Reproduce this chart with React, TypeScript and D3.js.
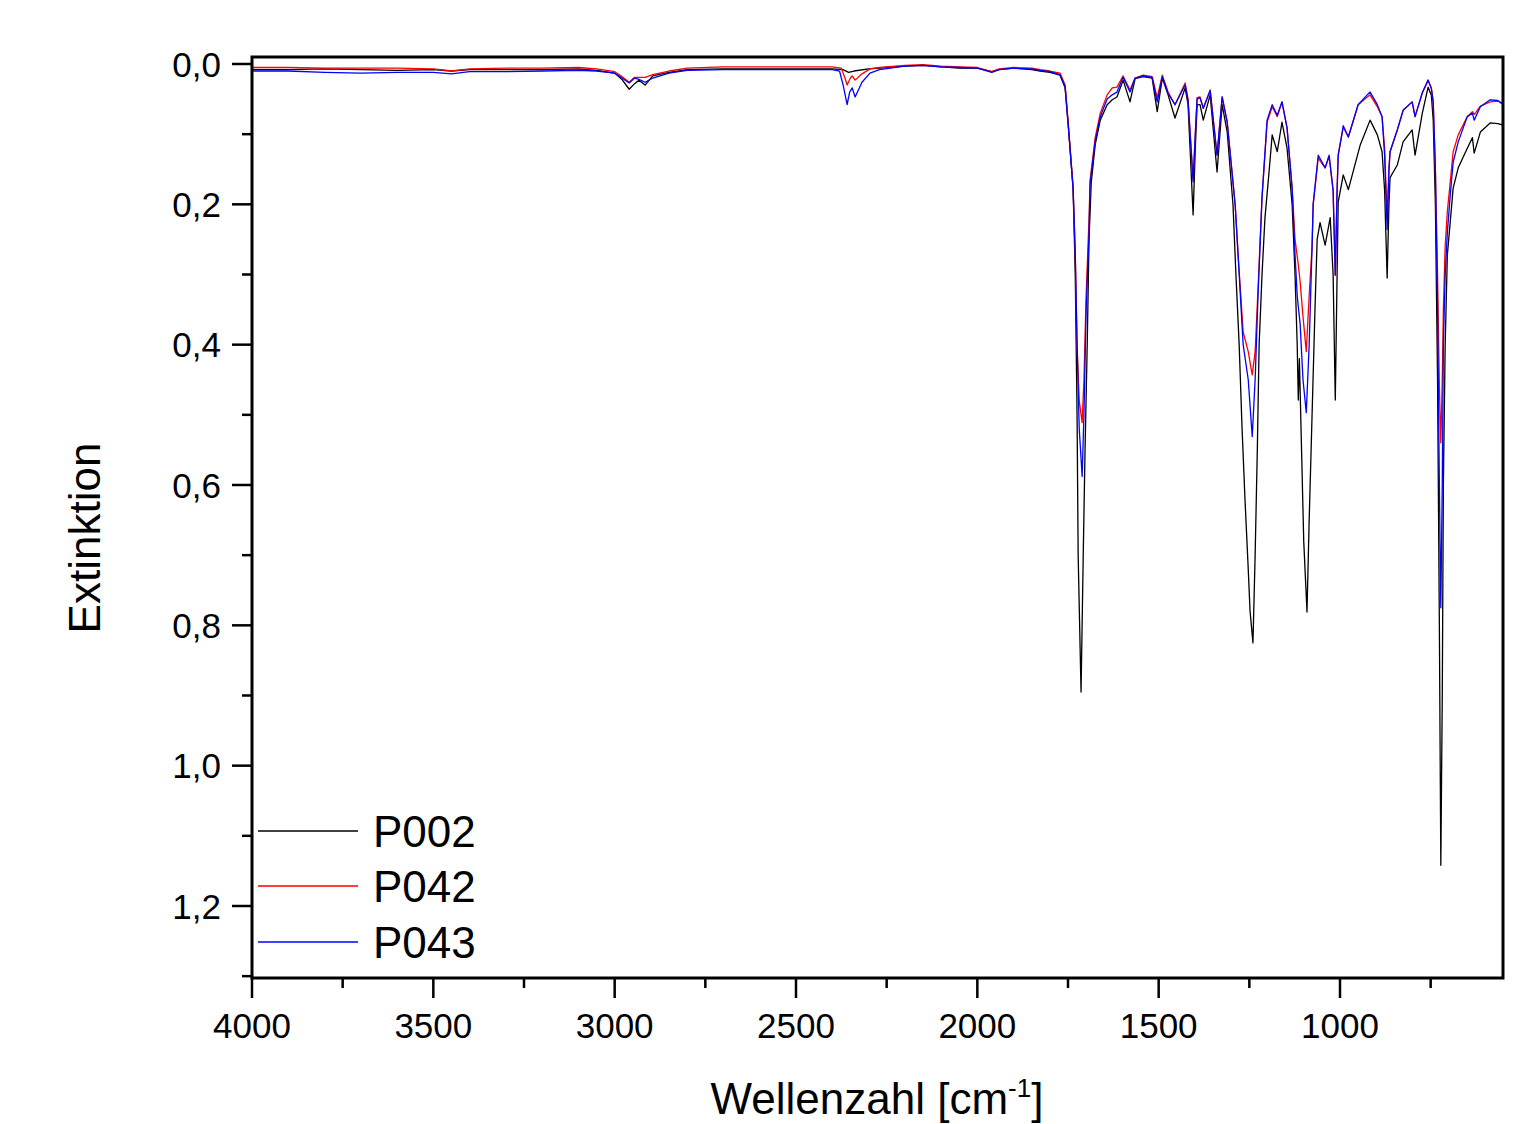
import React from "react";
import * as d3 from "d3";

type Pt = [number, number];

const seriesNames = ["P002", "P042", "P043"];
const seriesColors = ["#000000", "#ff0000", "#0000ff"];

const xMajorTicks = [4000, 3500, 3000, 2500, 2000, 1500, 1000];
const xMinorTicks = [3750, 3250, 2750, 2250, 1750, 1250, 750];
const yMajorTicks = [0, 0.2, 0.4, 0.6, 0.8, 1.0, 1.2];
const yMinorTicks = [0.1, 0.3, 0.5, 0.7, 0.9, 1.1, 1.3];

const p002: Pt[] = [
  [4000, 0.008], [3900, 0.008], [3800, 0.007], [3700, 0.008], [3600, 0.009], [3500, 0.008], [3450, 0.010],
  [3400, 0.008], [3300, 0.008], [3200, 0.008], [3100, 0.007], [3050, 0.009], [3000, 0.013], [2980, 0.022],
  [2960, 0.036], [2945, 0.028], [2933, 0.023], [2916, 0.030], [2895, 0.017], [2850, 0.012], [2800, 0.008],
  [2700, 0.007], [2600, 0.007], [2500, 0.007], [2400, 0.007], [2370, 0.008], [2355, 0.012], [2340, 0.010],
  [2300, 0.007], [2250, 0.005], [2200, 0.003], [2150, 0.002], [2100, 0.004], [2050, 0.006], [2000, 0.006],
  [1960, 0.011], [1940, 0.008], [1900, 0.006], [1850, 0.008], [1827, 0.010], [1800, 0.012], [1772, 0.016],
  [1758, 0.034], [1750, 0.083], [1736, 0.177], [1730, 0.30], [1725, 0.50], [1722, 0.70], [1714, 0.895],
  [1708, 0.70], [1703, 0.55], [1697, 0.40], [1692, 0.25], [1686, 0.17], [1675, 0.115], [1661, 0.080],
  [1642, 0.058], [1628, 0.051], [1615, 0.047], [1598, 0.023], [1579, 0.054], [1565, 0.021], [1543, 0.018],
  [1518, 0.020], [1504, 0.068], [1490, 0.020], [1474, 0.044], [1455, 0.077], [1427, 0.034], [1419, 0.058],
  [1405, 0.215], [1399, 0.12], [1394, 0.058], [1386, 0.058], [1377, 0.080], [1358, 0.044], [1339, 0.154],
  [1325, 0.058], [1311, 0.097], [1295, 0.201], [1287, 0.30], [1278, 0.40], [1270, 0.52], [1262, 0.62],
  [1253, 0.72], [1248, 0.78], [1240, 0.825], [1234, 0.70], [1228, 0.55], [1223, 0.40], [1215, 0.30],
  [1207, 0.22], [1195, 0.15], [1187, 0.101], [1173, 0.125], [1160, 0.083], [1146, 0.120], [1132, 0.20],
  [1124, 0.30], [1118, 0.40], [1115, 0.479], [1112, 0.42], [1106, 0.55], [1100, 0.68], [1091, 0.781],
  [1085, 0.65], [1077, 0.50], [1069, 0.35], [1063, 0.25], [1055, 0.226], [1041, 0.258], [1027, 0.219],
  [1019, 0.30], [1013, 0.479], [1008, 0.30], [1005, 0.197], [991, 0.158], [977, 0.179], [944, 0.115],
  [917, 0.080], [897, 0.101], [884, 0.125], [877, 0.18], [870, 0.305], [865, 0.20], [862, 0.162],
  [842, 0.144], [826, 0.111], [801, 0.094], [793, 0.130], [773, 0.070], [757, 0.033], [748, 0.045],
  [743, 0.080], [737, 0.20], [731, 0.45], [726, 0.80], [722, 1.142], [718, 0.90], [715, 0.60], [710, 0.40],
  [704, 0.272], [696, 0.225], [688, 0.177], [674, 0.148], [649, 0.120], [635, 0.105], [630, 0.127],
  [613, 0.097], [586, 0.084], [565, 0.085], [550, 0.087],
];

const p042: Pt[] = [
  [4000, 0.005], [3900, 0.005], [3800, 0.006], [3700, 0.006], [3600, 0.006], [3500, 0.007], [3450, 0.010],
  [3400, 0.007], [3300, 0.006], [3200, 0.006], [3100, 0.005], [3050, 0.007], [3000, 0.011], [2980, 0.018],
  [2960, 0.026], [2945, 0.019], [2933, 0.019], [2916, 0.019], [2895, 0.015], [2850, 0.010], [2800, 0.006],
  [2700, 0.004], [2600, 0.004], [2500, 0.004], [2400, 0.004], [2375, 0.006], [2365, 0.020], [2359, 0.030],
  [2350, 0.020], [2345, 0.017], [2337, 0.023], [2318, 0.014], [2296, 0.007], [2270, 0.005], [2200, 0.002],
  [2150, 0.001], [2100, 0.003], [2050, 0.004], [2000, 0.005], [1960, 0.011], [1940, 0.007], [1900, 0.005],
  [1850, 0.006], [1827, 0.008], [1800, 0.010], [1772, 0.013], [1758, 0.030], [1750, 0.080], [1736, 0.175],
  [1730, 0.27], [1725, 0.40], [1719, 0.48], [1711, 0.511], [1706, 0.45], [1700, 0.33], [1692, 0.22],
  [1689, 0.165], [1675, 0.105], [1661, 0.070], [1642, 0.044], [1628, 0.034], [1615, 0.033], [1598, 0.017],
  [1579, 0.037], [1565, 0.020], [1543, 0.016], [1518, 0.018], [1504, 0.048], [1490, 0.016], [1474, 0.040],
  [1455, 0.058], [1427, 0.027], [1419, 0.050], [1405, 0.165], [1399, 0.10], [1394, 0.048], [1386, 0.047],
  [1377, 0.063], [1358, 0.037], [1339, 0.130], [1325, 0.047], [1311, 0.083], [1289, 0.201], [1281, 0.272],
  [1267, 0.382], [1253, 0.41], [1242, 0.443], [1234, 0.41], [1226, 0.32], [1215, 0.19], [1201, 0.083],
  [1187, 0.061], [1173, 0.075], [1160, 0.054], [1146, 0.091], [1132, 0.177], [1124, 0.25], [1115, 0.286],
  [1110, 0.31], [1102, 0.36], [1093, 0.410], [1085, 0.33], [1077, 0.26], [1074, 0.20], [1060, 0.134],
  [1041, 0.148], [1030, 0.132], [1019, 0.18], [1013, 0.301], [1008, 0.18], [1005, 0.13], [991, 0.090],
  [977, 0.104], [950, 0.058], [925, 0.047], [917, 0.044], [897, 0.061], [884, 0.075], [877, 0.12],
  [870, 0.22], [865, 0.15], [862, 0.125], [842, 0.094], [826, 0.066], [801, 0.054], [793, 0.075],
  [773, 0.041], [757, 0.023], [748, 0.035], [743, 0.054], [737, 0.15], [731, 0.30], [726, 0.46],
  [722, 0.54], [718, 0.45], [715, 0.35], [710, 0.26], [704, 0.21], [696, 0.168], [688, 0.125], [674, 0.101],
  [649, 0.075], [635, 0.068], [630, 0.072], [613, 0.060], [586, 0.054], [565, 0.053], [550, 0.056],
];

const p043: Pt[] = [
  [4000, 0.010], [3900, 0.010], [3800, 0.012], [3700, 0.013], [3600, 0.012], [3500, 0.012], [3450, 0.014],
  [3400, 0.011], [3300, 0.011], [3200, 0.010], [3100, 0.009], [3050, 0.010], [3000, 0.013], [2980, 0.020],
  [2960, 0.027], [2945, 0.020], [2933, 0.022], [2916, 0.026], [2895, 0.020], [2850, 0.013], [2800, 0.009],
  [2700, 0.008], [2600, 0.008], [2500, 0.008], [2400, 0.008], [2380, 0.010], [2370, 0.030], [2359, 0.058],
  [2352, 0.040], [2345, 0.034], [2337, 0.047], [2318, 0.026], [2296, 0.013], [2270, 0.008], [2200, 0.003],
  [2150, 0.002], [2100, 0.004], [2050, 0.005], [2000, 0.006], [1960, 0.012], [1940, 0.008], [1900, 0.006],
  [1850, 0.007], [1827, 0.009], [1800, 0.011], [1772, 0.015], [1758, 0.032], [1750, 0.083], [1736, 0.177],
  [1730, 0.27], [1725, 0.40], [1719, 0.52], [1711, 0.588], [1706, 0.50], [1700, 0.35], [1692, 0.24],
  [1689, 0.17], [1675, 0.110], [1661, 0.075], [1642, 0.050], [1628, 0.044], [1615, 0.040], [1598, 0.019],
  [1579, 0.040], [1565, 0.020], [1543, 0.017], [1518, 0.019], [1504, 0.054], [1490, 0.018], [1474, 0.042],
  [1455, 0.058], [1427, 0.030], [1419, 0.052], [1405, 0.168], [1399, 0.10], [1394, 0.050], [1386, 0.048],
  [1377, 0.063], [1358, 0.038], [1339, 0.130], [1325, 0.047], [1311, 0.083], [1289, 0.201], [1281, 0.272],
  [1267, 0.40], [1253, 0.45], [1242, 0.531], [1234, 0.45], [1226, 0.33], [1215, 0.19], [1201, 0.080],
  [1187, 0.058], [1173, 0.073], [1160, 0.054], [1146, 0.091], [1132, 0.177], [1124, 0.272], [1118, 0.33],
  [1115, 0.346], [1110, 0.37], [1102, 0.45], [1093, 0.497], [1085, 0.40], [1077, 0.26], [1074, 0.20],
  [1060, 0.130], [1041, 0.148], [1030, 0.130], [1019, 0.18], [1013, 0.301], [1008, 0.18], [1005, 0.13],
  [991, 0.088], [977, 0.104], [950, 0.058], [925, 0.044], [917, 0.040], [897, 0.058], [884, 0.075],
  [877, 0.13], [870, 0.236], [865, 0.15], [862, 0.125], [842, 0.094], [826, 0.066], [801, 0.054],
  [793, 0.075], [773, 0.041], [757, 0.023], [748, 0.035], [743, 0.054], [737, 0.15], [731, 0.35],
  [726, 0.60], [722, 0.775], [718, 0.60], [715, 0.40], [710, 0.30], [704, 0.24], [696, 0.187], [688, 0.140],
  [674, 0.111], [649, 0.075], [635, 0.070], [630, 0.080], [613, 0.061], [586, 0.051], [565, 0.052], [550, 0.058],
];

const allSeries = [p002, p042, p043];

const W = 1527;
const H = 1124;
const PL = 252, PR = 1503, PT = 57, PB = 978;
const FONT = "Arial, 'Liberation Sans', sans-serif";

export default function App() {
  const x = d3.scaleLinear().domain([4000, 1000]).range([PL, 1340]);
  const y = d3.scaleLinear().domain([0, 1.2]).range([64, 906]);
  const line = d3.line<Pt>().x((d) => x(d[0])).y((d) => y(d[1]));

  const legendY = [831, 886, 942];

  return (
    <svg width={W} height={H} style={{ position: "absolute", left: 0, top: 0, background: "#fff" }}
      fontFamily={FONT}>
      <rect x={0} y={0} width={W} height={H} fill="#fff" />
      <defs>
        <clipPath id="plotclip">
          <rect x={PL} y={PT} width={PR - PL} height={PB - PT} />
        </clipPath>
      </defs>
      <g clipPath="url(#plotclip)">
        {allSeries.map((s, i) => (
          <path key={i} d={line(s) || ""} fill="none" stroke={seriesColors[i]} strokeWidth={1.3}
            strokeLinejoin="round" />
        ))}
      </g>
      {/* frame */}
      <rect x={PL} y={PT} width={PR - PL} height={PB - PT} fill="none" stroke="#000" strokeWidth={3} />
      {/* y ticks */}
      {yMajorTicks.map((t) => (
        <g key={"ym" + t}>
          <line x1={232} x2={PL} y1={y(t)} y2={y(t)} stroke="#000" strokeWidth={2.5} />
          <text x={221} y={y(t)} dy="0.36em" textAnchor="end" fontSize={35}>
            {t.toFixed(1).replace(".", ",")}
          </text>
        </g>
      ))}
      {yMinorTicks.map((t) => (
        <line key={"yn" + t} x1={242} x2={PL} y1={y(t)} y2={y(t)} stroke="#000" strokeWidth={2.5} />
      ))}
      {/* x ticks */}
      {xMajorTicks.map((t) => (
        <g key={"xm" + t}>
          <line x1={x(t)} x2={x(t)} y1={PB} y2={PB + 20} stroke="#000" strokeWidth={2.5} />
          <text x={x(t)} y={1038} textAnchor="middle" fontSize={35}>{t}</text>
        </g>
      ))}
      {xMinorTicks.map((t) => (
        <line key={"xn" + t} x1={x(t)} x2={x(t)} y1={PB} y2={PB + 10} stroke="#000" strokeWidth={2.5} />
      ))}
      {/* axis titles */}
      <text transform="translate(100,538) rotate(-90)" textAnchor="middle" fontSize={44}>Extinktion</text>
      <text x={877} y={1114} textAnchor="middle" fontSize={44}>
        Wellenzahl [cm<tspan dy={-17} fontSize={26}>-1</tspan><tspan dy={17}>]</tspan>
      </text>
      {/* legend */}
      {seriesNames.map((n, i) => (
        <g key={n}>
          <line x1={258} x2={358} y1={legendY[i]} y2={legendY[i]} stroke={seriesColors[i]} strokeWidth={1.3} />
          <text x={373} y={legendY[i]} dy="0.36em" fontSize={44}>{n}</text>
        </g>
      ))}
    </svg>
  );
}
